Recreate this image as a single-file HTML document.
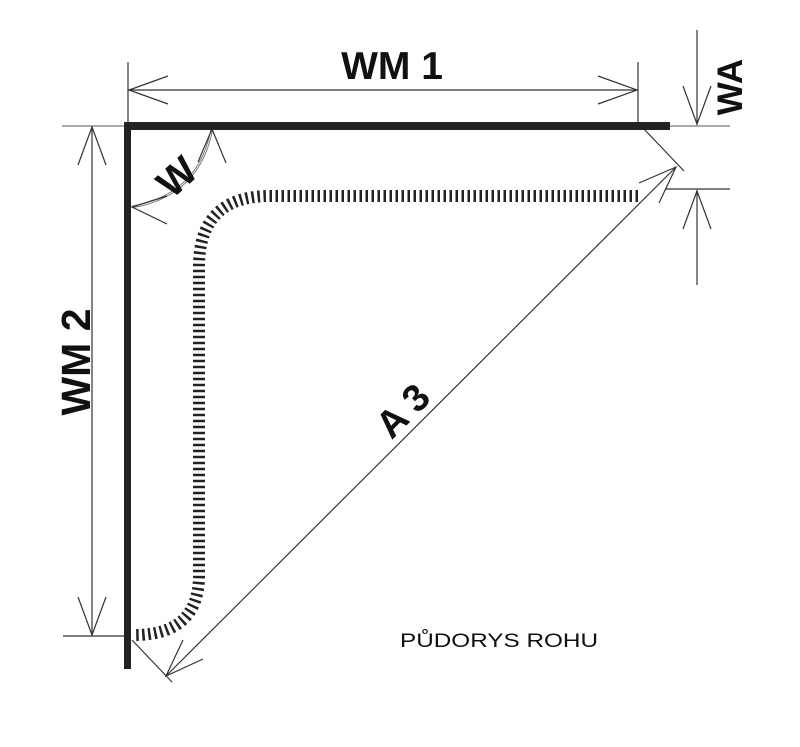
<!DOCTYPE html>
<html><head><meta charset="utf-8"><style>html,body{margin:0;padding:0;background:#fff;}svg{display:block}</style></head>
<body>
<svg width="800" height="747" viewBox="0 0 800 747" xmlns="http://www.w3.org/2000/svg">
<g fill="none" stroke="#333" stroke-width="1.2">
<line x1="128" y1="62" x2="128" y2="122"/>
<line x1="638" y1="62" x2="638" y2="124"/>
<line x1="128" y1="90" x2="638" y2="90"/>
<polyline points="168,76 129,90 168,104"/>
<polyline points="598,76 637,90 598,104"/>
<line x1="62" y1="126" x2="124" y2="126" stroke="#777"/>
<line x1="63" y1="636" x2="130" y2="636"/>
<line x1="92" y1="126" x2="92" y2="636"/>
<polyline points="78,165 92,127 106,165"/>
<polyline points="78,597 92,635 106,597"/>
<line x1="697" y1="30" x2="697" y2="125"/>
<polyline points="683,86 697,124 711,86"/>
<line x1="670" y1="126" x2="730" y2="126" stroke="#777"/>
<line x1="665" y1="189" x2="730" y2="189"/>
<line x1="697" y1="190" x2="697" y2="285"/>
<polyline points="683,229 697,191 711,229"/>
<line x1="643" y1="128" x2="684" y2="171"/>
<line x1="132" y1="640" x2="172" y2="682"/>
<line x1="676" y1="167" x2="166" y2="676"/>
<polyline points="639,183 676,167 659,203"/>
<polyline points="183,640 166,676 203,659"/>
<path d="M132,207 Q200,195 212,128" stroke="#666" stroke-width="2.5"/>
<path d="M132,207 Q200,195 212,128" stroke="#fff" stroke-width="0.8"/>
<polyline points="167,224 132,207 167,196"/>
<polyline points="198,162 212,129 226,163"/>
</g>
<rect x="124" y="122" width="546" height="8" fill="#222"/>
<rect x="124" y="122" width="7" height="547" fill="#222"/>
<path d="M638,196 L270,196 Q199,196 199,267 L199,575 Q199,635 134,635" fill="none" stroke="#222" stroke-width="12" stroke-dasharray="2.5 3.5"/>
<g font-family="Liberation Sans, sans-serif" font-weight="bold" fill="#111">
<text x="392" y="79" font-size="39" text-anchor="middle">WM 1</text>
<text transform="translate(90,362) rotate(-90)" font-size="41" text-anchor="middle">WM 2</text>
<text transform="translate(742,87) rotate(-90)" font-size="35" text-anchor="middle">WA</text>
<text transform="translate(186,187) rotate(-42)" font-size="40" text-anchor="middle">W</text>
<text transform="translate(412,420) rotate(-45)" font-size="38" text-anchor="middle">A 3</text>
</g>
<text x="400" y="647" font-family="Liberation Sans, sans-serif" font-size="19" textLength="198" lengthAdjust="spacingAndGlyphs" fill="#111">PŮDORYS ROHU</text>
</svg>
</body></html>
